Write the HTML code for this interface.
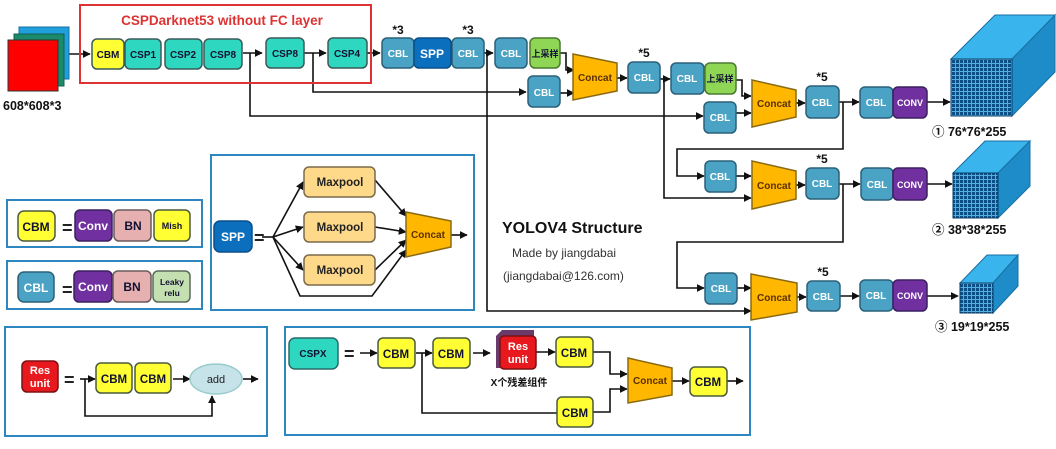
<!DOCTYPE html>
<html><head><meta charset="utf-8"><style>
html,body{margin:0;padding:0;background:#fff;}
svg{display:block;font-family:"Liberation Sans","Noto Sans CJK SC",sans-serif;font-weight:bold;}
</style></head><body>
<svg width="1056" height="449" viewBox="0 0 1056 449" xmlns="http://www.w3.org/2000/svg">
<defs>
<marker id="a" viewBox="0 0 10 10" refX="9" refY="5" markerWidth="5" markerHeight="5" orient="auto"><path d="M0,0L10,5L0,10z" fill="#111"/></marker>
<pattern id="g1" width="4" height="4" patternUnits="userSpaceOnUse"><rect width="4" height="4" fill="#55aee0"/><rect width="3" height="3" fill="#0b4f86"/></pattern>
</defs>
<g fill="none" stroke="#111" stroke-width="1.6">
<!-- main row -->
<path d="M69,54H90" marker-end="url(#a)"/>
<path d="M243,53H262" marker-end="url(#a)"/>
<path d="M304,53H326" marker-end="url(#a)"/>
<path d="M367,53H380" marker-end="url(#a)"/>
<path d="M484,53H493" marker-end="url(#a)"/>
<path d="M250,53V116H703" marker-end="url(#a)"/>
<path d="M313,53V92H526" marker-end="url(#a)"/>
<path d="M487,53V311H751" marker-end="url(#a)"/>
<path d="M560,53H566V70H574" marker-end="url(#a)"/>
<path d="M560,93H574" marker-end="url(#a)"/>
<path d="M617,78H627" marker-end="url(#a)"/>
<path d="M660,79H670" marker-end="url(#a)"/>
<path d="M664,79V198H751" marker-end="url(#a)"/>
<path d="M736,80H742V96H751" marker-end="url(#a)"/>
<path d="M736,113H751" marker-end="url(#a)"/>
<path d="M796,103H805" marker-end="url(#a)"/>
<path d="M839,102H859" marker-end="url(#a)"/>
<path d="M843,102V149H677V176H704" marker-end="url(#a)"/>
<path d="M736,176H751" marker-end="url(#a)"/>
<path d="M796,185H805" marker-end="url(#a)"/>
<path d="M839,184H860" marker-end="url(#a)"/>
<path d="M843,184V242H677V288H704" marker-end="url(#a)"/>
<path d="M737,288H751" marker-end="url(#a)"/>
<path d="M797,297H806" marker-end="url(#a)"/>
<path d="M840,296H859" marker-end="url(#a)"/>
<path d="M927,102H950" marker-end="url(#a)"/>
<path d="M927,184H952" marker-end="url(#a)"/>
<path d="M927,296H958" marker-end="url(#a)"/>
<!-- SPP -->
<path d="M262,237H273"/>
<path d="M273,237L303,182" marker-end="url(#a)"/>
<path d="M273,237L303,227" marker-end="url(#a)"/>
<path d="M273,237L303,270" marker-end="url(#a)"/>
<path d="M273,237L300,296H372L406,250" marker-end="url(#a)"/>
<path d="M375,180L406,216" marker-end="url(#a)"/>
<path d="M375,227L406,232" marker-end="url(#a)"/>
<path d="M375,270L406,240" marker-end="url(#a)"/>
<path d="M451,235H467" marker-end="url(#a)"/>
<!-- res unit -->
<path d="M80,379H95" marker-end="url(#a)"/>
<path d="M85,379V416H212V396" marker-end="url(#a)"/>
<path d="M173,379H190" marker-end="url(#a)"/>
<path d="M243,379H258" marker-end="url(#a)"/>
<!-- CSPX -->
<path d="M360,353H377" marker-end="url(#a)"/>
<path d="M416,353H432" marker-end="url(#a)"/>
<path d="M422,353V413H557"/>
<path d="M473,353H490" marker-end="url(#a)"/>
<path d="M536,352H555" marker-end="url(#a)"/>
<path d="M593,352H610V374H627" marker-end="url(#a)"/>
<path d="M593,412H610V389H627" marker-end="url(#a)"/>
<path d="M672,381H689" marker-end="url(#a)"/>
<path d="M727,381H743" marker-end="url(#a)"/>
</g>
<!-- input -->
<rect x="19" y="27" width="50" height="52" fill="#1f9fdc" stroke="#1a6fa0"/>
<rect x="14" y="34" width="50" height="52" fill="#1a8a6a" stroke="#106050"/>
<rect x="8" y="40" width="50" height="51" fill="#ff0000" stroke="#333"/>
<text x="3" y="110" font-size="12.5" fill="#111">608*608*3</text>
<rect x="80" y="5" width="291" height="78" fill="none" stroke="#d33" stroke-width="2"/>
<text x="222" y="25" font-size="13.5" fill="#d33" text-anchor="middle">CSPDarknet53 without FC layer</text>
<g font-size="10" text-anchor="middle" stroke-width="1.5">
<g stroke="#3a5a5a">
<rect x="92" y="39" width="32" height="30" rx="5" fill="#ffff33"/>
<rect x="125" y="39" width="36" height="30" rx="5" fill="#2ed8c0"/>
<rect x="165" y="39" width="37" height="30" rx="5" fill="#2ed8c0"/>
<rect x="204" y="39" width="38" height="30" rx="5" fill="#2ed8c0"/>
<rect x="266" y="38" width="38" height="30" rx="5" fill="#2ed8c0"/>
<rect x="328" y="38" width="39" height="30" rx="5" fill="#2ed8c0"/>
</g>
<g fill="#113">
<text x="108" y="58">CBM</text><text x="143" y="58">CSP1</text><text x="183" y="58">CSP2</text><text x="223" y="58">CSP8</text><text x="285" y="57">CSP8</text><text x="347" y="57">CSP4</text>
</g>
<g stroke="#2a6078" fill="#4aa3c4">
<rect x="382" y="38" width="32" height="30" rx="5"/>
<rect x="452" y="38" width="32" height="30" rx="5"/>
<rect x="495" y="38" width="32" height="30" rx="5"/>
<rect x="528" y="76" width="32" height="31" rx="5"/>
<rect x="628" y="62" width="32" height="31" rx="5"/>
<rect x="671" y="63" width="33" height="31" rx="5"/>
<rect x="704" y="102" width="32" height="31" rx="5"/>
<rect x="806" y="86" width="33" height="32" rx="5"/>
<rect x="860" y="87" width="33" height="31" rx="5"/>
<rect x="705" y="161" width="31" height="31" rx="5"/>
<rect x="806" y="168" width="33" height="31" rx="5"/>
<rect x="861" y="168" width="32" height="32" rx="5"/>
<rect x="705" y="273" width="32" height="31" rx="5"/>
<rect x="807" y="281" width="33" height="30" rx="5"/>
<rect x="860" y="280" width="33" height="31" rx="5"/>
<rect x="18" y="272" width="36" height="30" rx="6"/>
</g>
<rect x="414" y="38" width="37" height="30" rx="5" fill="#0b6fbe" stroke="#0a4f88"/>
<rect x="214" y="221" width="38" height="31" rx="6" fill="#0b6fbe" stroke="#0a4f88"/>
<g stroke="#4a7a30" fill="#8ed654">
<rect x="530" y="38" width="30" height="30" rx="5"/>
<rect x="705" y="63" width="31" height="31" rx="5"/>
</g>
<g stroke="#3a2060" fill="#7030a0">
<rect x="893" y="87" width="34" height="31" rx="5"/>
<rect x="893" y="168" width="34" height="32" rx="5"/>
<rect x="893" y="280" width="34" height="31" rx="5"/>
<rect x="75" y="210" width="37" height="31" rx="5"/>
<rect x="74" y="271" width="38" height="31" rx="5"/>
</g>
<g fill="#fff">
<text x="398" y="57">CBL</text><text x="468" y="57">CBL</text><text x="511" y="57">CBL</text><text x="544" y="96">CBL</text>
<text x="644" y="81">CBL</text><text x="687" y="82">CBL</text><text x="720" y="121">CBL</text><text x="822" y="106">CBL</text>
<text x="876" y="106">CBL</text><text x="720" y="180">CBL</text><text x="822" y="187">CBL</text><text x="877" y="188">CBL</text>
<text x="721" y="292">CBL</text><text x="823" y="300">CBL</text><text x="876" y="299">CBL</text>
<text x="432" y="58" font-size="12">SPP</text>
<text x="233" y="241" font-size="12">SPP</text>
<text x="36" y="292" font-size="12">CBL</text>
<text x="910" y="106" font-size="9">CONV</text><text x="910" y="188" font-size="9">CONV</text><text x="910" y="299" font-size="9">CONV</text>
<text x="93" y="230" font-size="12">Conv</text><text x="93" y="291" font-size="12">Conv</text>
</g>
<g fill="#113" font-size="9">
<text x="545" y="57">上采样</text><text x="720" y="82">上采样</text>
</g>
<g fill="#111" font-size="12" font-weight="bold">
<text x="398" y="34">*3</text><text x="468" y="34">*3</text><text x="644" y="57">*5</text><text x="822" y="81">*5</text><text x="822" y="163">*5</text><text x="823" y="276">*5</text>
</g>
<!-- concats -->
<g fill="#ffb700" stroke="#8a6a10">
<path d="M573,54L617,63V91L573,100Z"/>
<path d="M752,80L796,90V117L752,127Z"/>
<path d="M752,161L796,171V199L752,209Z"/>
<path d="M751,274L797,283V312L751,320Z"/>
<path d="M406,212L451,221V247L406,257Z"/>
<path d="M628,358L672,368V395L628,403Z"/>
</g>
<g fill="#5a3000" font-size="10">
<text x="595" y="81">Concat</text><text x="774" y="107">Concat</text><text x="774" y="189">Concat</text><text x="774" y="301">Concat</text><text x="428" y="238">Concat</text><text x="650" y="384">Concat</text>
</g>
</g>
<!-- cubes -->
<path d="M951,59L995,15H1055L1012,59Z" fill="#3ab4ec" stroke="#1a6fa0"/>
<path d="M1012,59L1055,15V72L1012,116Z" fill="#1d8cc8" stroke="#1a6fa0"/>
<rect x="951" y="59" width="61" height="57" fill="url(#g1)" stroke="#0a3f6a"/>
<path d="M953,173L985,141H1030L998,173Z" fill="#3ab4ec" stroke="#1a6fa0"/>
<path d="M998,173L1030,141V186L998,218Z" fill="#1d8cc8" stroke="#1a6fa0"/>
<rect x="953" y="173" width="45" height="45" fill="url(#g1)" stroke="#0a3f6a"/>
<path d="M960,283L987,255H1018L993,283Z" fill="#3ab4ec" stroke="#1a6fa0"/>
<path d="M993,283L1018,255V286L993,313Z" fill="#1d8cc8" stroke="#1a6fa0"/>
<rect x="960" y="283" width="33" height="30" fill="url(#g1)" stroke="#0a3f6a"/>
<g font-size="12.5" fill="#111">
<text x="932" y="136">① 76*76*255</text>
<text x="932" y="234">② 38*38*255</text>
<text x="935" y="331">③ 19*19*255</text>
</g>
<!-- text -->
<text x="502" y="233" font-size="16" fill="#111">YOLOV4 Structure</text>
<text x="512" y="257" font-size="12" font-weight="normal" fill="#333">Made by jiangdabai</text>
<text x="503" y="280" font-size="12" font-weight="normal" fill="#333">(jiangdabai@126.com)</text>
<!-- legend boxes -->
<g fill="none" stroke="#2e86c1" stroke-width="2">
<rect x="7" y="200" width="195" height="47"/>
<rect x="7" y="261" width="195" height="48"/>
<rect x="211" y="155" width="263" height="155"/>
<rect x="5" y="327" width="262" height="109"/>
<rect x="285" y="327" width="465" height="108"/>
</g>
<g font-size="10" text-anchor="middle" stroke-width="1.5">
<rect x="18" y="211" width="37" height="30" rx="6" fill="#ffff33" stroke="#4a5a3a"/>
<text x="36" y="231" font-size="12" fill="#113">CBM</text>
<rect x="114" y="210" width="37" height="31" rx="5" fill="#e6b0b0" stroke="#6a5a5a"/>
<text x="133" y="230" font-size="12" fill="#113">BN</text>
<rect x="154" y="210" width="36" height="31" rx="5" fill="#ffff33" stroke="#4a5a3a"/>
<text x="172" y="229" font-size="9" fill="#113">Mish</text>
<rect x="113" y="271" width="38" height="31" rx="5" fill="#e6b0b0" stroke="#6a5a5a"/>
<text x="132" y="291" font-size="12" fill="#113">BN</text>
<rect x="153" y="271" width="37" height="31" rx="5" fill="#c5e0b0" stroke="#5a6a5a"/>
<text x="172" y="285" font-size="8.5" fill="#113">Leaky</text><text x="172" y="296" font-size="8.5" fill="#113">relu</text>
<g fill="#ffd98a" stroke="#7a6a4a">
<rect x="304" y="167" width="71" height="30" rx="5"/>
<rect x="304" y="212" width="71" height="30" rx="5"/>
<rect x="304" y="255" width="71" height="30" rx="5"/>
</g>
<g fill="#222" font-size="11.5"><text x="340" y="186">Maxpool</text><text x="340" y="231">Maxpool</text><text x="340" y="274">Maxpool</text></g>
<rect x="22" y="361" width="36" height="31" rx="5" fill="#e8191e" stroke="#7a1010"/>
<text x="40" y="374" font-size="11" fill="#fff">Res</text><text x="40" y="387" font-size="11" fill="#fff">unit</text>
<g fill="#ffff33" stroke="#4a5a3a">
<rect x="96" y="363" width="36" height="30" rx="5"/>
<rect x="135" y="363" width="36" height="30" rx="5"/>
<rect x="378" y="338" width="37" height="30" rx="5"/>
<rect x="433" y="338" width="37" height="30" rx="5"/>
<rect x="556" y="337" width="37" height="30" rx="5"/>
<rect x="557" y="397" width="36" height="30" rx="5"/>
<rect x="690" y="367" width="37" height="29" rx="5"/>
</g>
<g fill="#113" font-size="11.5">
<text x="114" y="383">CBM</text><text x="153" y="383">CBM</text><text x="396" y="358">CBM</text><text x="451" y="358">CBM</text>
<text x="574" y="357">CBM</text><text x="575" y="417">CBM</text><text x="708" y="386">CBM</text>
</g>
<ellipse cx="216" cy="379" rx="26" ry="15" fill="#c7e3ea" stroke="#9cc"/>
<text x="216" y="383" font-size="11" font-weight="normal" fill="#222">add</text>
<rect x="289" y="338" width="49" height="31" rx="6" fill="#2ed8c0" stroke="#2a6a6a"/>
<text x="313" y="357" font-size="10" fill="#113">CSPX</text>
<path d="M496,336L502,330H534V362L530,368H496Z" fill="#6a3a6a"/>
<rect x="500" y="336" width="36" height="33" rx="4" fill="#e8191e" stroke="#7a1010"/>
<text x="518" y="350" font-size="11" fill="#fff">Res</text><text x="518" y="363" font-size="11" fill="#fff">unit</text>
<text x="519" y="386" font-size="10" fill="#111">X个残差组件</text>
</g>
<g font-size="18" fill="#222" font-weight="bold">
<text x="62" y="234">=</text><text x="62" y="296">=</text><text x="254" y="244">=</text><text x="64" y="386">=</text><text x="344" y="360">=</text>
</g>
</svg>
</body></html>
